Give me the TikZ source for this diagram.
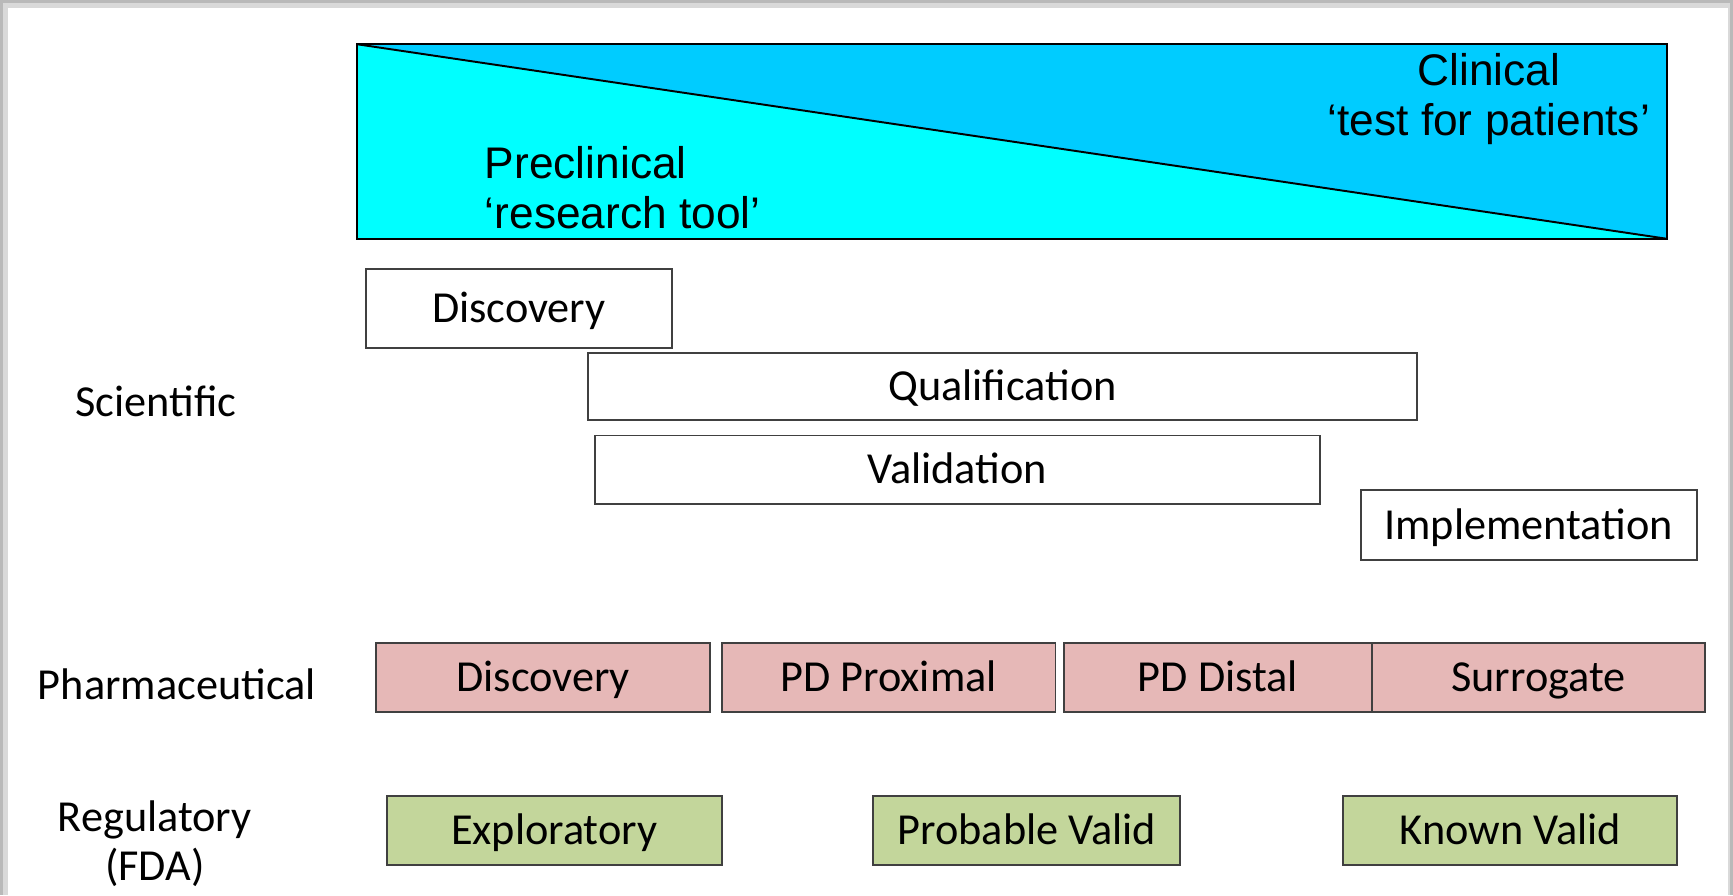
\documentclass[tikz,border=0pt]{standalone}
\usepackage{fontspec}
\setmainfont{Carlito}
\newfontfamily\helv{Liberation Sans}
\usetikzlibrary{positioning}
\definecolor{paleblue}{RGB}{0,255,255}
\definecolor{deepblue}{RGB}{0,204,255}
\definecolor{pinkfill}{RGB}{230,184,183}
\definecolor{greenfill}{RGB}{195,214,155}
\definecolor{edgegray}{RGB}{64,64,64}

\begin{document}
\begin{tikzpicture}[
        phase/.style={draw=edgegray, line width=0.5pt, inner sep=0pt,
            text height=7.3pt, text depth=0pt,
            font=\fontsize{11.4}{13.5}\selectfont},
        sci/.style={phase, fill=white},
        pharma/.style={phase, fill=pinkfill, minimum height=6.2mm},
        regul/.style={phase, fill=greenfill, minimum height=6.2mm},
        rowlabel/.style={align=center, font=\fontsize{11.4}{12.6}\selectfont},
        stagelabel/.style={inner sep=0pt, font=\helv\fontsize{11.4}{12.9}\selectfont},
    ]
        \useasboundingbox (0,0) rectangle (15.68,-8.10);
        % page shadow
        \fill[gray!55] (0,0) rectangle (15.68,-8.10);
        \fill[gray!30] (0.03,-0.03) rectangle (15.65,-8.10);
        \fill[white] (0.075,-0.075) rectangle (15.63,-8.10);

        % preclinical -> clinical wedge
        \fill[paleblue] (3.23,-0.40) -- (15.08,-2.16) -- (3.23,-2.16) -- cycle;
        \fill[deepblue] (3.23,-0.40) -- (15.08,-0.40) -- (15.08,-2.16) -- cycle;
        \draw[line width=0.5pt] (3.23,-0.40) rectangle (15.08,-2.16);
        \draw[line width=0.5pt] (3.23,-0.40) -- (15.08,-2.16);
        \node[stagelabel, align=left, anchor=west] (precl) at (4.38,-1.695)
            {Preclinical\\‘research tool’};
        \node[stagelabel, align=center] (clin) at (13.47,-0.895)
            {Clinical\\‘test for patients’};

        % scientific
        \node[rowlabel] (scilab) at (1.41,-3.63) {Scientific};
        \node[sci, minimum width=2.77cm, minimum height=7.2mm] (discs) at (4.695,-2.79) {Discovery};
        \node[sci, minimum width=7.50cm, minimum height=6.1mm] (qual) at (9.07,-3.495) {Qualification};
        \node[sci, minimum width=6.56cm, minimum height=6.2mm] (valid) at (8.66,-4.25) {Validation};
        \node[sci, minimum width=3.04cm, minimum height=6.3mm] (impl) at (13.83,-4.75) {Implementation};

        % pharmaceutical
        \node[rowlabel] (pharlab) at (1.60,-6.19) {Pharmaceutical};
        \node[pharma, minimum width=3.02cm] (discp) at (4.915,-6.13) {Discovery};
        \node[pharma, minimum width=3.02cm] (prox) at (8.04,-6.13) {PD Proximal};
        \node[pharma, minimum width=2.78cm] (dist) at (11.02,-6.13) {PD Distal};
        \node[pharma, minimum width=3.02cm] (surr) at (13.92,-6.13) {Surrogate};

        % regulatory
        \node[rowlabel] (reglab) at (1.40,-7.63) {Regulatory\\(FDA)};
        \node[regul, minimum width=3.03cm] (expl) at (5.015,-7.515) {Exploratory};
        \node[regul, minimum width=2.78cm] (prob) at (9.29,-7.515) {Probable Valid};
        \node[regul, minimum width=3.02cm] (known) at (13.665,-7.515) {Known Valid};
    \end{tikzpicture}
\end{document}
